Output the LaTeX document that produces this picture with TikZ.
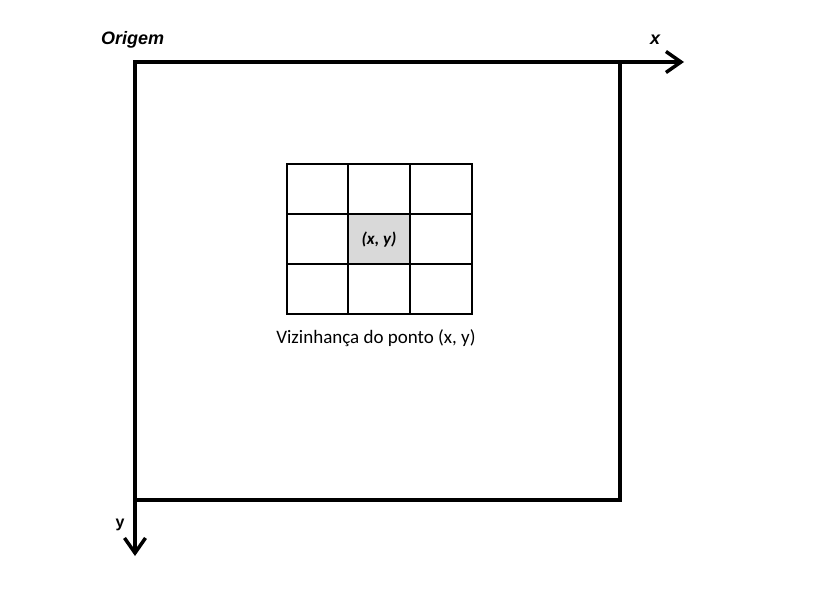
\documentclass[tikz,border=0pt]{standalone}
\usepackage{fontspec}
\setmainfont{Liberation Sans}
\newfontfamily\calib{Carlito}
\usetikzlibrary{arrows.meta}
\begin{document}
\begin{tikzpicture}[x=1pt,y=-1pt,
  frame/.style={line width=3.5pt},
  axis/.style={line width=3.5pt,-{Straight Barb[length=15pt,width=21pt,line width=3.5pt]}},
  gridline/.style={line width=2.5pt},
  lab/.style={inner sep=0pt,font=\fontsize{18}{18}\selectfont\bfseries\itshape},
]
\useasboundingbox (0,0) rectangle (816,613);
\fill[white] (0,0) rectangle (816,613);
\coordinate (O) at (135,62);
\coordinate (X) at (684,62);
\coordinate (Y) at (135,556);
\draw[frame] (135,62) rectangle (620,500);
\draw[axis] (O) -- (X);
\draw[axis] (O) -- (Y);
\node[lab,anchor=base west] (orig) at (101,44) {Origem};
\node[lab,anchor=base] (xl) at (655,44) {x};
\node[inner sep=0pt,anchor=base,font=\fontsize{16}{16}\selectfont\bfseries] (yl) at (120,527) {y};
\fill[gray!30] (348,214) rectangle (410,264);
\draw[gridline] (287,164) rectangle (472,314);
\foreach \xx in {348,410} \draw[gridline] (\xx,164) -- (\xx,314);
\foreach \yy in {214,264} \draw[gridline] (287,\yy) -- (472,\yy);
\node[inner sep=0pt,font=\calib\fontsize{17}{17}\selectfont\bfseries\itshape] (c) at (379,240) {(x, y)};
\node[inner sep=0pt,anchor=base,font=\calib\fontsize{19}{19}\selectfont] (cap) at (376,343) {Vizinhança do ponto (x, y)};
\end{tikzpicture}
\end{document}
